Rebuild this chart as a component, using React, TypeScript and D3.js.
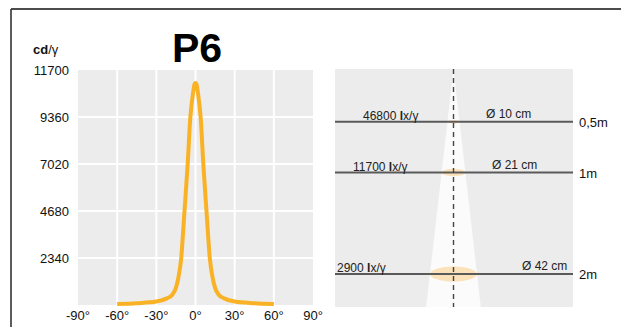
import React from "react";
import * as d3 from "d3";

const angles = [-60, -45, -30, -22, -18, -15, -13, -11, -8.5, -6, -4, -2, -0.7, 0, 0.7, 2, 4, 6, 8.5, 11, 13, 15, 18, 22, 30, 45, 60];
const intensity = [50, 90, 170, 330, 500, 850, 1400, 2300, 4600, 7000, 9300, 10500, 11000, 11050, 11000, 10500, 9300, 7000, 4600, 2300, 1400, 850, 500, 330, 170, 90, 50];
const yTicks = [2340, 4680, 7020, 9360, 11700];
const xTicks = [-90, -60, -30, 0, 30, 60, 90];
const distances = [0.5, 1, 2];
const distLabels = ["0,5m", "1m", "2m"];
const luxValues = ["46800", "11700", "2900"];
const diameters = [10, 21, 42];

const FONT = "'Liberation Sans', Arial, Helvetica, sans-serif";

export default function App() {
  const x = d3.scaleLinear().domain([-90, 90]).range([78, 313]);
  const y = d3.scaleLinear().domain([0, 11700]).range([305, 70]);
  const line = d3
    .line<number>()
    .x((_, i) => x(angles[i]))
    .y((d) => y(d))
    .curve(d3.curveMonotoneX);

  // right panel scales
  const dy = d3.scaleLinear().domain([0, 2]).range([71, 274]);
  const cmToPx = d3.scaleLinear().domain([0, 42]).range([0, 47]);
  const cx = 453.5;
  const panelTop = 69;
  const panelBottom = 307;
  const beamHalf = (yy: number) => cmToPx(21 * dy.invert(yy)) / 2;
  const lxX = [363, 353, 337];
  const diaX = [486, 492, 522];

  return (
    <svg width={621} height={327} style={{ position: "absolute", left: 0, top: 0, fontFamily: FONT }}>
      <rect x={0} y={0} width={621} height={327} fill="#fff" />
      {/* frame */}
      <line x1={11} y1={9} x2={621} y2={9} stroke="#111" strokeWidth={1.6} />
      <line x1={11} y1={9} x2={11} y2={327} stroke="#333" strokeWidth={1.6} />

      {/* left chart */}
      <rect x={78} y={70} width={235} height={235} fill="#ebeceb" />
      {xTicks.slice(1, -1).map((t) => (
        <line key={"gx" + t} x1={x(t)} x2={x(t)} y1={70} y2={305} stroke="#fff" strokeWidth={2} />
      ))}
      {yTicks.slice(0, -1).map((t) => (
        <line key={"gy" + t} x1={78} x2={313} y1={y(t)} y2={y(t)} stroke="#fff" strokeWidth={2} />
      ))}
      <path d={line(intensity) || ""} fill="none" stroke="#f9b225" strokeWidth={4} strokeLinejoin="round" />
      {yTicks.map((t) => (
        <text key={"yl" + t} x={69} y={y(t)} dy="0.35em" textAnchor="end" fontSize={13} fill="#111">
          {t}
        </text>
      ))}
      {xTicks.map((t) => (
        <text key={"xl" + t} x={x(t)} y={320} textAnchor="middle" fontSize={13} fill="#111">
          {t}°
        </text>
      ))}
      <text x={33} y={54} fontSize={13} fill="#111">
        <tspan fontWeight="bold">cd</tspan>
        <tspan>/γ</tspan>
      </text>
      <text x={197} y={62} textAnchor="middle" fontSize={41} fontWeight="bold" fill="#000">
        P6
      </text>

      {/* right panel */}
      <rect x={335} y={panelTop} width={238} height={panelBottom - panelTop} fill="#ebeceb" />
      <path
        d={`M${cx - beamHalf(panelTop + 2)},${panelTop} L${cx + beamHalf(panelTop + 2)},${panelTop} L${cx + beamHalf(panelBottom)},${panelBottom} L${cx - beamHalf(panelBottom)},${panelBottom} Z`}
        fill="#fbfbfb"
      />
      {distances.map((d, i) => (
        <ellipse
          key={"el" + d}
          cx={cx}
          cy={dy(d)}
          rx={cmToPx(diameters[i]) / 2}
          ry={cmToPx(diameters[i]) * 0.16}
          fill="#fbe2bb"
        />
      ))}
      {distances.map((d) => (
        <line key={"hl" + d} x1={335} x2={573} y1={dy(d)} y2={dy(d)} stroke="#5a5a5a" strokeWidth={1.8} />
      ))}
      <line x1={cx} x2={cx} y1={panelTop} y2={panelBottom} stroke="#444" strokeWidth={1.4} strokeDasharray="5,4" />
      {distances.map((d, i) => (
        <g key={"lb" + d}>
          <text x={lxX[i]} y={dy(d) - 2} fontSize={12} fill="#222">
            {luxValues[i] + " "}
            <tspan fontWeight="bold">l</tspan>
            <tspan>x/γ</tspan>
          </text>
          <text x={diaX[i]} y={dy(d) - 4} fontSize={12} fill="#222">
            {"Ø " + diameters[i] + " cm"}
          </text>
          <text x={579} y={dy(d) + 5} fontSize={13} fill="#111">
            {distLabels[i]}
          </text>
        </g>
      ))}
    </svg>
  );
}
